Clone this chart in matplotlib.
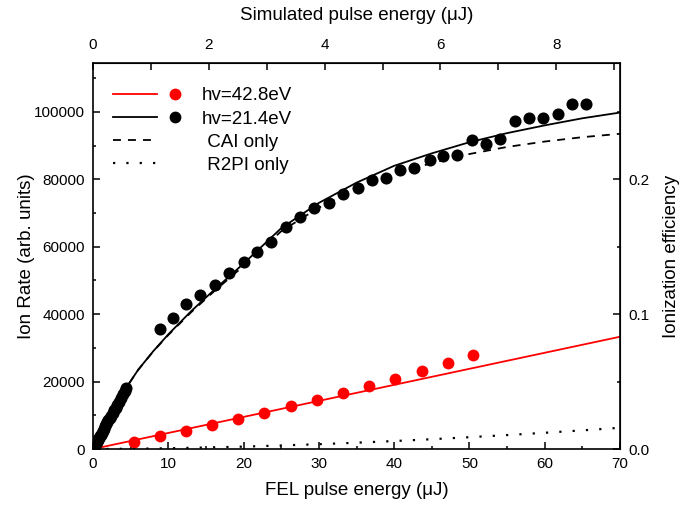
import matplotlib
matplotlib.use("Agg")
import matplotlib.pyplot as plt
from matplotlib.lines import Line2D
from matplotlib.legend_handler import HandlerTuple
from matplotlib.ticker import MultipleLocator


# Measured data, hv = 42.8 eV (red)
red_x = [5.4, 8.9, 12.4, 15.8, 19.3, 22.7, 26.3, 29.7, 33.2, 36.7, 40.1, 43.7, 47.1, 50.5]
red_y = [2070, 3850, 5330, 7110, 8890, 10670, 12740, 14520, 16590, 18670, 20740, 23110, 25480, 27940]

# Measured data, hv = 21.4 eV (black)
blk_x = [0.1, 0.2, 0.3, 0.4, 0.5, 0.6, 0.7, 0.8, 0.9, 1.0, 1.15, 1.3, 1.45, 1.6,
         1.75, 1.9, 2.05, 2.2, 2.4, 2.6, 2.8, 3.0, 3.2, 3.4, 3.7, 4.0, 4.2, 4.4,
         8.9, 10.6, 12.4, 14.2, 16.2, 18.0, 20.0, 21.8, 23.7, 25.6, 27.5, 29.4,
         31.3, 33.2, 35.2, 37.0, 38.9, 40.8, 42.7, 44.7, 46.5, 48.4, 50.3, 52.2,
         54.1, 56.0, 57.9, 59.8, 61.7, 63.6, 65.5]
blk_y = [430, 860, 1290, 1700, 2130, 2560, 2980, 3400, 3800, 4220, 4840, 5450, 6070, 6680,
         7300, 7900, 8500, 9100, 9900, 10700, 11500, 12300, 13100, 13900, 15000, 16200, 17100, 18200,
         35470, 38810, 42870, 45630, 48770, 52060, 55460, 58460, 61330, 65870, 68830, 71500,
         73100, 75760, 77540, 79910, 80500, 82880, 83470, 85630, 87020, 87110, 91560, 90460,
         92060, 97270, 98280, 98070, 99260, 102430, 102430]

# Model curves
fit_red_x = [0, 70]
fit_red_y = [0, 33300]

fit_x = [0, 2, 4, 6, 8, 10, 13, 16, 20, 25, 30, 35, 40, 45, 50, 55, 60, 65, 70]
fit_total = [0, 8600, 16800, 23500, 29000, 34000, 40800, 47000, 55000, 65500,
             73000, 79000, 84000, 87700, 91000, 93700, 96000, 98100, 99800]
fit_cai = [0, 8600, 16780, 23460, 28950, 33800, 40500, 46600, 54300, 64600,
           71600, 77100, 81600, 84800, 87500, 89600, 91200, 92500, 93500]
fit_r2pi = [0, 20, 60, 90, 150, 200, 350, 500, 700, 1050,
            1420, 1870, 2360, 2900, 3500, 4130, 4810, 5530, 6300]

# conversions for the secondary axes
SIM_FACTOR = 0.13        # simulated / FEL pulse energy
EFF_FACTOR = 1 / 400000  # ionization efficiency per ion rate unit

plt.rcParams["font.family"] = ["Liberation Sans", "DejaVu Sans"]

fig = plt.figure(figsize=(6.83, 5.11), dpi=100)
ax = fig.add_axes([93 / 683, 1 - 449 / 511, 527 / 683, 386 / 511])

ax.plot(fit_red_x, fit_red_y, color="#ff0000", lw=1.3)
ax.plot(fit_x, fit_total, color="black", lw=1.3)
ax.plot(fit_x, fit_cai, color="black", lw=1.3, ls=(0, (4.4, 3.9)))
ax.plot(fit_x, fit_r2pi, color="black", lw=1.6, ls=(0, (1, 5)))
ax.plot(red_x, red_y, "o", color="#ff0000", ms=8.5, mec="none")
ax.plot(blk_x, blk_y, "o", color="black", ms=8.7, mec="none")

ax.set_xlim(0, 70)
ax.set_ylim(0, 114500)
ax.xaxis.set_major_locator(MultipleLocator(10))
ax.xaxis.set_minor_locator(MultipleLocator(5))
ax.yaxis.set_major_locator(MultipleLocator(20000))
ax.yaxis.set_minor_locator(MultipleLocator(10000))
ax.tick_params(which="both", direction="in", labelsize=11, width=1.1)
ax.tick_params(which="major", length=5)
ax.tick_params(which="minor", length=2.5)
ax.tick_params(axis="x", pad=6)
ax.tick_params(axis="y", pad=5.8)
ax.set_xlabel("FEL pulse energy (μJ)", fontsize=13.5, labelpad=8)
ax.set_ylabel("Ion Rate (arb. units)", fontsize=13.5, labelpad=-1)
for s in ax.spines.values():
    s.set_linewidth(1.2)

top = ax.secondary_xaxis("top", functions=(lambda x: x * SIM_FACTOR, lambda x: x / SIM_FACTOR))
top.xaxis.set_major_locator(MultipleLocator(2))
top.xaxis.set_minor_locator(MultipleLocator(1))
top.tick_params(which="both", direction="in", labelsize=11, length=5, width=1.1, pad=8)
top.set_xlabel("Simulated pulse energy (μJ)", fontsize=13.5, labelpad=13)

right = ax.secondary_yaxis("right", functions=(lambda y: y * EFF_FACTOR, lambda y: y / EFF_FACTOR))
right.yaxis.set_major_locator(MultipleLocator(0.1))
right.yaxis.set_minor_locator(MultipleLocator(0.05))
right.yaxis.set_major_formatter(lambda v, p: f"{v:.1f}")
right.tick_params(which="both", direction="in", labelsize=11, width=1.1, pad=6)
right.tick_params(which="major", length=5)
right.tick_params(which="minor", length=2.5)
right.set_ylabel("Ionization efficiency", fontsize=13.5, labelpad=10)

# legend: line + marker side by side, like the original
blank = Line2D([], [], ls="none")
h_red = (Line2D([], [], color="#ff0000", lw=1.3),
         Line2D([], [], marker="o", color="#ff0000", ls="none", ms=8.5, mec="none"))
h_blk = (Line2D([], [], color="black", lw=1.3),
         Line2D([], [], marker="o", color="black", ls="none", ms=8.5, mec="none"))
h_cai = (Line2D([], [], color="black", lw=1.3, ls=(0, (4.4, 3.9))), blank)
h_r2pi = (Line2D([], [], color="black", lw=1.6, ls=(0, (1, 5))), blank)
ax.legend([h_red, h_blk, h_cai, h_r2pi],
          ["hv=42.8eV", "hv=21.4eV", " CAI only", " R2PI only"],
          handler_map={tuple: HandlerTuple(ndivide=None, pad=-0.2)},
          loc="upper left", bbox_to_anchor=(0.038, 0.937), borderaxespad=0,
          borderpad=0, frameon=False, fontsize=13.5, handlelength=4.45,
          handletextpad=0.3, labelspacing=0.32)

fig.savefig("out.png", dpi=100)
